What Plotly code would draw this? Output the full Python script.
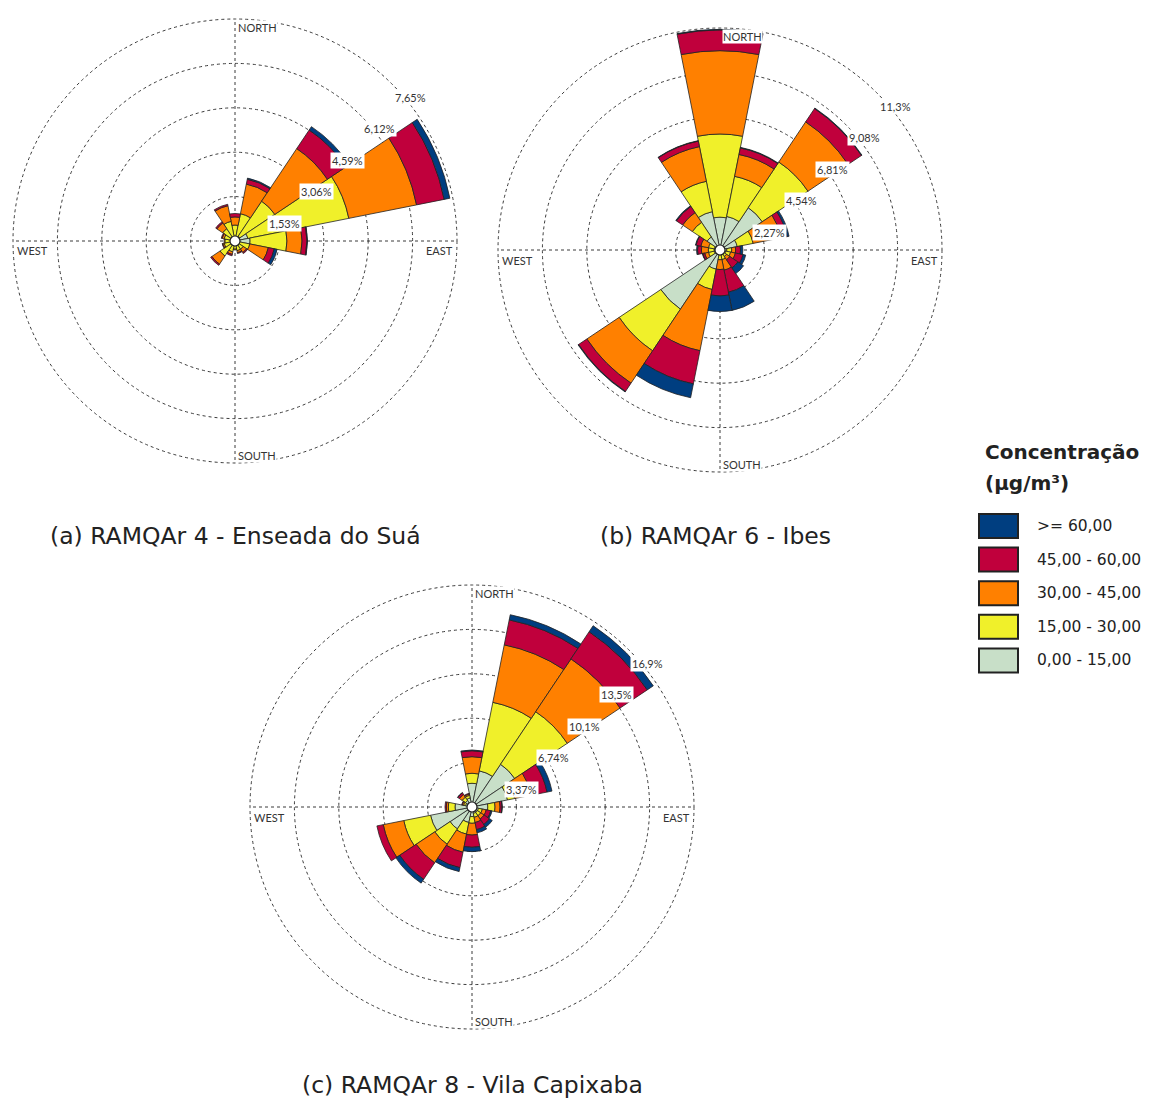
import math
import plotly.graph_objects as go

# ---------------- data ----------------
directions = ["N", "NNE", "NE", "ENE", "E", "ESE", "SE", "SSE",
              "S", "SSW", "SW", "WSW", "W", "WNW", "NW", "NNW"]

# concentration classes, inner -> outer in the stack
class_names = ["0,00 - 15,00", "15,00 - 30,00", "30,00 - 45,00", "45,00 - 60,00", ">= 60,00"]
class_colors = ["#c8dfc8", "#f0f02a", "#ff8000", "#c0003c", "#003e80"]

# (a) RAMQAr 4 - Enseada do Suá  (frequency %, per direction)
a_0_15 = [0.15, 0.17, 0.20, 0.45, 0.52, 0.15, 0.15, 0.15, 0.15, 0.15, 0.15, 0.15, 0.15, 0.15, 0.15, 0.15]
a_15_30 = [0.40, 0.79, 1.45, 3.55, 1.27, 0.37, 0.19, 0.19, 0.13, 0.23, 0.47, 0.23, 0.20, 0.23, 0.36, 0.54]
a_30_45 = [0.28, 1.04, 2.18, 2.38, 0.52, 0.65, 0.14, 0.07, 0.03, 0.09, 0.34, 0.05, 0.03, 0.07, 0.24, 0.55]
a_45_60 = [0.12, 0.17, 0.77, 0.97, 0.17, 0.21, 0.04, 0.03, 0.00, 0.05, 0.05, 0.02, 0.00, 0.03, 0.05, 0.05]
a_60 = [0.00, 0.04, 0.14, 0.20, 0.02, 0.10, 0.00, 0.00, 0.00, 0.00, 0.00, 0.00, 0.00, 0.00, 0.00, 0.00]
a_ticks = [1.53, 3.06, 4.59, 6.12, 7.65]
a_tick_text = ["1,53%", "3,06%", "4,59%", "6,12%", "7,65%"]

# (b) RAMQAr 6 - Ibes
b_0_15 = [1.68, 1.75, 2.60, 0.90, 0.35, 0.30, 0.25, 0.25, 0.25, 1.00, 3.64, 0.30, 0.30, 0.30, 0.80, 2.00]
b_15_30 = [4.25, 2.09, 2.81, 0.83, 0.25, 0.25, 0.15, 0.25, 0.25, 1.06, 2.56, 0.30, 0.30, 0.30, 0.90, 1.58]
b_30_45 = [4.26, 1.14, 2.47, 1.47, 0.20, 0.25, 0.20, 0.55, 0.50, 3.19, 1.99, 0.20, 0.35, 0.40, 0.60, 1.81]
b_45_60 = [1.06, 0.34, 0.82, 0.30, 0.25, 0.40, 0.50, 1.15, 1.35, 1.73, 0.51, 0.10, 0.20, 0.25, 0.38, 0.29]
b_60 = [0.03, 0.03, 0.03, 0.10, 0.12, 0.14, 0.35, 0.95, 0.80, 0.72, 0.03, 0.02, 0.05, 0.03, 0.04, 0.02]
b_ticks = [2.27, 4.54, 6.81, 9.08, 11.35]
b_tick_text = ["2,27%", "4,54%", "6,81%", "9,08%", "11,3%"]

# (c) RAMQAr 8 - Vila Capixaba
c_0_15 = [1.80, 2.80, 3.90, 2.75, 1.20, 0.50, 0.50, 0.50, 0.73, 1.20, 2.00, 3.21, 1.29, 0.50, 0.60, 0.70]
c_15_30 = [0.76, 5.30, 4.80, 0.55, 0.55, 0.30, 0.30, 0.30, 0.51, 0.90, 1.40, 2.07, 0.51, 0.15, 0.30, 0.20]
c_30_45 = [1.26, 4.45, 4.82, 1.30, 0.38, 0.30, 0.30, 0.40, 0.89, 1.40, 1.70, 1.59, 0.15, 0.10, 0.25, 0.10]
c_45_60 = [0.45, 1.93, 2.48, 1.21, 0.15, 0.35, 0.50, 0.55, 0.93, 1.20, 1.50, 0.49, 0.10, 0.05, 0.15, 0.06]
c_60 = [0.06, 0.40, 0.55, 0.38, 0.02, 0.10, 0.25, 0.25, 0.33, 0.30, 0.35, 0.00, 0.00, 0.00, 0.02, 0.00]
c_ticks = [3.37, 6.74, 10.11, 13.48, 16.85]
c_tick_text = ["3,37%", "6,74%", "10,1%", "13,5%", "16,9%"]

titles = ["(a) RAMQAr 4 - Enseada do Suá", "(b) RAMQAr 6 - Ibes", "(c) RAMQAr 8 - Vila Capixaba"]
compass_labels = ["NORTH", "EAST", "SOUTH", "WEST"]
legend_title = ["Concentração", "(μg/m³)"]

# ---------------- layout geometry ----------------
# positions are given in page pixels; the page body has an 8px margin
PAGE_OFF = 8
W, H = 1150 - PAGE_OFF, 1100 - PAGE_OFF
R = 222
centers = [(235, 241), (720, 250), (472, 807)]
title_pos = [(236, 536), (715, 536), (472, 1085)]

roses = [
    ([a_0_15, a_15_30, a_30_45, a_45_60, a_60], a_ticks, a_tick_text),
    ([b_0_15, b_15_30, b_30_45, b_45_60, b_60], b_ticks, b_tick_text),
    ([c_0_15, c_15_30, c_30_45, c_45_60, c_60], c_ticks, c_tick_text),
]

GRID = "#3a3a3a"
GRID_DASH = "3px,3px"
TXT = "#333333"
LABEL_FONT = "Lato"
TITLE_FONT = "DejaVu Sans"
LEG_FONT = "DejaVu Sans"

fig = go.Figure()
annotations = []
shapes = []


def px_to_paper(x, y):
    return (x - PAGE_OFF) / W, 1 - (y - PAGE_OFF) / H


for k, (series, ticks, tick_text) in enumerate(roses):
    sub = "polar" if k == 0 else f"polar{k + 1}"
    for ci, vals in enumerate(series):
        fig.add_trace(go.Barpolar(
            r=vals, theta=directions, subplot=sub,
            name=class_names[ci], marker_color=class_colors[ci],
            marker_line_color="#222222", marker_line_width=0.8,
            showlegend=False, hoverinfo="skip",
        ))
    # centre hole
    fig.add_trace(go.Scatterpolar(
        r=[0], theta=["N"], subplot=sub, mode="markers",
        marker=dict(size=10, color="white", line=dict(color="#222222", width=1.2)),
        showlegend=False, hoverinfo="skip",
    ))
    cx, cy = centers[k]
    rmax = ticks[-1]
    x0p, y1p = px_to_paper(cx - R, cy - R)
    x1p, y0p = px_to_paper(cx + R, cy + R)
    fig.update_layout(**{sub: dict(
        domain=dict(x=[x0p, x1p], y=[y0p, y1p]),
        bgcolor="rgba(0,0,0,0)",
        bargap=0,
        barmode="stack",
        radialaxis=dict(range=[0, rmax], tickvals=ticks, showticklabels=False, ticks="",
                        showline=False, showgrid=True, gridcolor=GRID, gridwidth=1,
                        griddash=GRID_DASH),
        angularaxis=dict(type="category", categoryarray=directions, direction="clockwise",
                         rotation=90, tickvals=["N", "E", "S", "W"], showticklabels=False,
                         ticks="", showline=False, showgrid=True, gridcolor=GRID,
                         gridwidth=1, griddash=GRID_DASH),
    )})
    # outer dashed ring (the outermost grid circle)
    shapes.append(dict(type="circle", xref="paper", yref="paper", layer="below",
                       x0=x0p, x1=x1p, y0=y0p, y1=y1p,
                       line=dict(color=GRID, width=1, dash=GRID_DASH)))

    # radial tick labels (white boxes, along the 45° line)
    for t, txt in zip(ticks, tick_text):
        rp = t / rmax * R
        x = cx + rp * math.cos(math.radians(45)) + 1
        y = cy - rp * math.sin(math.radians(45)) + 5
        px, py = px_to_paper(x, y)
        annotations.append(dict(x=px, y=py, xref="paper", yref="paper", text=txt,
                                showarrow=False, xanchor="left", yanchor="top",
                                bgcolor="white", borderpad=1,
                                font=dict(family=LABEL_FONT, size=11, color=TXT)))
    # compass labels
    comp = [(cx + 2, cy - 214, "left"), (cx + R - 3, cy + 10, "right"),
            (cx + 2, cy + 214, "left"), (cx - R + 3, cy + 10, "left")]
    for (x, y, anc), txt in zip(comp, compass_labels):
        px, py = px_to_paper(x, y)
        annotations.append(dict(x=px, y=py, xref="paper", yref="paper", text=txt,
                                showarrow=False, xanchor=anc, yanchor="middle",
                                bgcolor="white", borderpad=0,
                                font=dict(family=LABEL_FONT, size=11, color=TXT)))
    # subplot title
    tx, ty = title_pos[k]
    px, py = px_to_paper(tx, ty)
    annotations.append(dict(x=px, y=py, xref="paper", yref="paper", text=titles[k],
                            showarrow=False, xanchor="center", yanchor="middle", borderpad=0,
                            font=dict(family=TITLE_FONT, size=23.5, color="#222222")))

# ---------------- manual legend ----------------
for txt, yy in zip(legend_title, [452, 483]):
    px, py = px_to_paper(983, yy)
    annotations.append(dict(x=px, y=py, xref="paper", yref="paper", text=f"<b>{txt}</b>",
                            showarrow=False, xanchor="left", yanchor="middle",
                            font=dict(family=LEG_FONT, size=20, color="#222222")))
legend_order = list(range(len(class_names)))[::-1]
for row, ci in enumerate(legend_order):
    y0 = 514 + row * 33.6
    x0p, y0p = px_to_paper(979, y0)
    x1p, y1p = px_to_paper(1018, y0 + 24)
    shapes.append(dict(type="rect", xref="paper", yref="paper", x0=x0p, x1=x1p, y0=y1p, y1=y0p,
                       fillcolor=class_colors[ci], line=dict(color="#222222", width=2)))
    px, py = px_to_paper(1035, y0 + 12)
    annotations.append(dict(x=px, y=py, xref="paper", yref="paper", text=class_names[ci],
                            showarrow=False, xanchor="left", yanchor="middle",
                            font=dict(family=LEG_FONT, size=15.5, color="#222222")))

fig.update_layout(width=W, height=H, margin=dict(l=0, r=0, t=0, b=0),
                  paper_bgcolor="white", plot_bgcolor="white", showlegend=False,
                  annotations=annotations, shapes=shapes)

fig.write_html("out.html")
